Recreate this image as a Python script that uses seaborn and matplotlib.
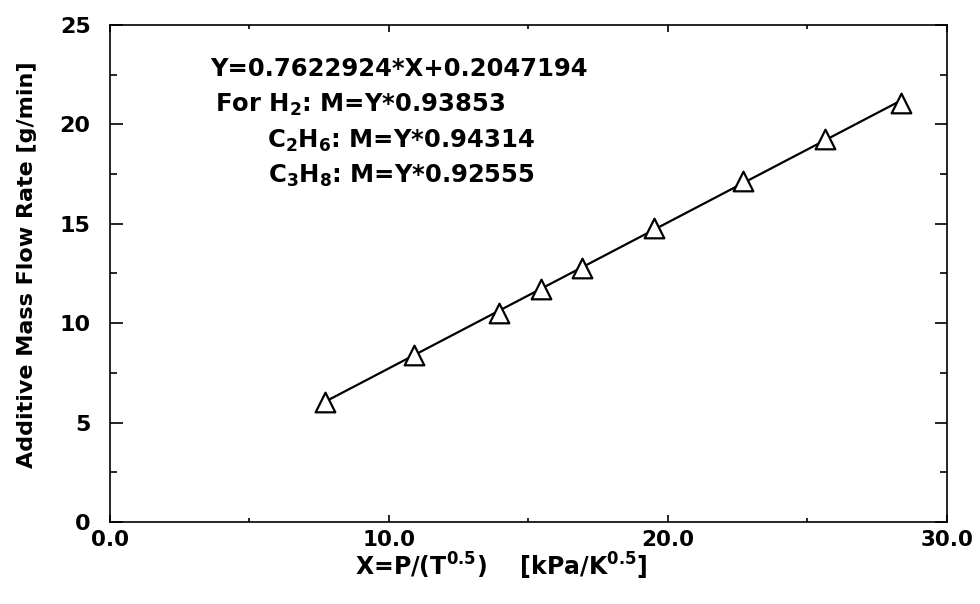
import matplotlib
matplotlib.use("Agg")
import matplotlib.pyplot as plt
import seaborn as sns
import pandas as pd
from matplotlib.ticker import MultipleLocator, FormatStrFormatter

# ---- data ----
x_vals = [7.69, 10.90, 13.94, 15.44, 16.93, 19.49, 22.68, 25.64, 28.35]
y_vals = [6.04, 8.42, 10.53, 11.71, 12.76, 14.77, 17.17, 19.28, 21.06]
x_ticks = [0.0, 10.0, 20.0, 30.0]
y_ticks = [0, 5, 10, 15, 20, 25]
annot_lines = [
    "Y=0.7622924*X+0.2047194",
    r"For H$_\mathbf{2}$: M=Y*0.93853",
    r"C$_\mathbf{2}$H$_\mathbf{6}$: M=Y*0.94314",
    r"C$_\mathbf{3}$H$_\mathbf{8}$: M=Y*0.92555",
]
x_label = r"X=P/(T$^\mathbf{0.5}$)    [kPa/K$^\mathbf{0.5}$]"
y_label = "Additive Mass Flow Rate [g/min]"

df = pd.DataFrame({"x": x_vals, "y": y_vals})

sns.set_style("ticks")
plt.rcParams["font.family"] = ["DejaVu Sans"]
plt.rcParams["font.weight"] = "bold"
plt.rcParams["mathtext.fontset"] = "dejavusans"
plt.rcParams["axes.linewidth"] = 1.2
plt.rcParams["axes.labelcolor"] = "black"
plt.rcParams["text.color"] = "black"
plt.rcParams["xtick.color"] = "black"
plt.rcParams["ytick.color"] = "black"

fig = plt.figure(figsize=(9.8, 6.04), dpi=100)
ax = fig.add_axes([0.1122, 0.1358, 0.8541, 0.8228])

sns.regplot(data=df, x="x", y="y", scatter=False, ci=None, ax=ax,
            line_kws={"color": "black", "lw": 1.6, "zorder": 2})
sns.scatterplot(data=df, x="x", y="y", ax=ax, marker="^", s=200,
                facecolor="white", edgecolor="black", linewidth=1.6,
                zorder=3, legend=False)

ax.set_xlim(0, 30)
ax.set_ylim(0, 25)
ax.set_xticks(x_ticks)
ax.set_yticks(y_ticks)
ax.xaxis.set_major_formatter(FormatStrFormatter("%.1f"))
ax.yaxis.set_major_formatter(FormatStrFormatter("%d"))
ax.xaxis.set_minor_locator(MultipleLocator(5))
ax.yaxis.set_minor_locator(MultipleLocator(2.5))

ax.tick_params(axis="both", which="both", direction="in",
               top=True, right=True, colors="black", labelcolor="black",
               width=1.2)
ax.tick_params(axis="y", which="major", length=9, pad=14, labelsize=16)
ax.tick_params(axis="y", which="minor", length=5)
ax.tick_params(axis="x", which="major", length=5, pad=6, labelsize=15.5)
ax.tick_params(axis="x", which="minor", length=3)
for lab in ax.get_xticklabels() + ax.get_yticklabels():
    lab.set_fontweight("bold")

for sp in ax.spines.values():
    sp.set_visible(True)
    sp.set_color("black")
    sp.set_linewidth(1.2)

ax.set_xlabel(x_label, fontsize=17, fontweight="bold", color="black")
ax.set_ylabel(y_label, fontsize=16, fontweight="bold", color="black")
ax.xaxis.set_label_coords(0.468, -0.059)
ax.yaxis.set_label_coords(-0.087, 0.517)

positions = [(0.1195, 0.897), (0.1254, 0.8255), (0.1876, 0.752), (0.1888, 0.683)]
for (tx, ty), t in zip(positions, annot_lines):
    ax.text(tx, ty, t, transform=ax.transAxes, fontsize=17.5,
            fontweight="bold", ha="left", va="baseline", color="black")

fig.savefig("out.png", dpi=100, facecolor="white")
